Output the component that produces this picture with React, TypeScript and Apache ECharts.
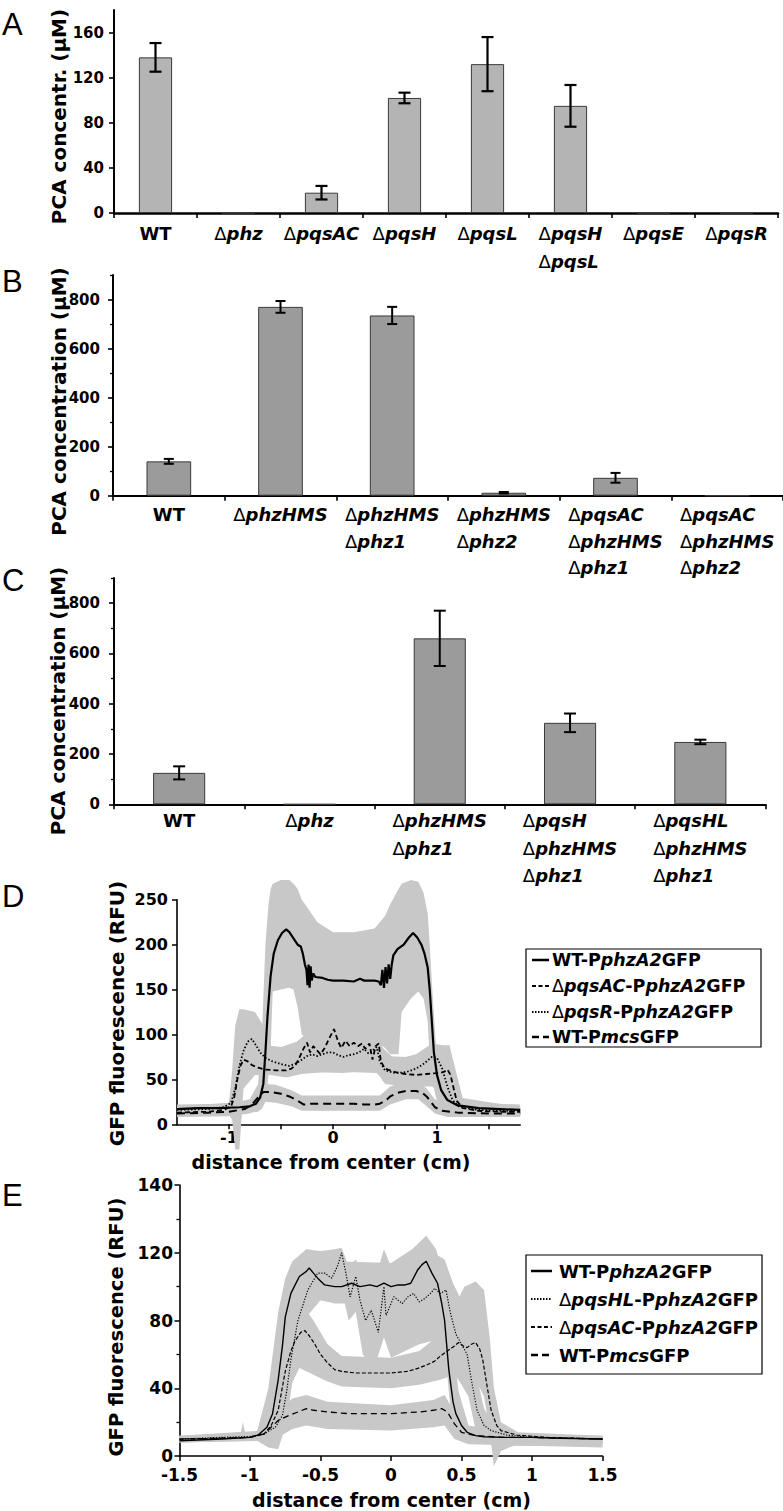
import React, { useEffect, useRef } from 'react';
import * as echarts from 'echarts';

// ---------------- DATA ----------------
const catsA = ['WT', 'Δphz', 'ΔpqsAC', 'ΔpqsH', 'ΔpqsL', 'ΔpqsH\nΔpqsL', 'ΔpqsE', 'ΔpqsR'];
const valsA = [138, 0, 18, 102, 132, 95, 0, 0];
const errA = [12.7, 0, 6, 4.7, 24, 18.5, 0, 0];
const tickValsA = [0, 40, 80, 120, 160];

const catsB = ['WT', 'ΔphzHMS', 'ΔphzHMS\nΔphz1', 'ΔphzHMS\nΔphz2', 'ΔpqsAC\nΔphzHMS\nΔphz1', 'ΔpqsAC\nΔphzHMS\nΔphz2'];
const valsB = [140, 770, 735, 12, 73, 0];
const errB = [10, 24, 35, 3, 20, 0];

const catsC = ['WT', 'Δphz', 'ΔphzHMS\nΔphz1', 'ΔpqsH\nΔphzHMS\nΔphz1', 'ΔpqsHL\nΔphzHMS\nΔphz1'];
const valsC = [125, 0, 660, 324, 248];
const errC = [26, 0, 110, 37, 9];

const tickValsBC = [0, 200, 400, 600, 800];
const minorValsBC = [100, 300, 500, 700, 900];

const dXTicks = [-1, -0.5, 0, 0.5, 1, 1.5];
const dXLabels = [-1, 0, 1];
const eYTickVals = [0, 40, 80, 120, 160];
const eYTickLabels = ['0', '40', '80', '120', '140'];

// Panel D curves [x, y]
const dWT = [[-1.5,17],[-1.3,18],[-1.1,18],[-0.9,19],[-0.8,20],[-0.74,23],[-0.7,30],[-0.67,45],[-0.65,80],[-0.63,120],[-0.6,165],[-0.57,190],[-0.53,205],[-0.49,213],[-0.45,217],[-0.42,214],[-0.38,207],[-0.34,200],[-0.31,198],[-0.29,190],[-0.27,178],[-0.255,172],[-0.245,155],[-0.235,178],[-0.225,152],[-0.215,176],[-0.205,160],[-0.19,168],[-0.17,164],[-0.1,163],[-0.05,161],[0,160],[0.1,160],[0.2,159],[0.26,162],[0.3,160],[0.4,160],[0.44,159],[0.46,155],[0.475,172],[0.49,152],[0.505,175],[0.52,157],[0.535,178],[0.55,162],[0.565,178],[0.58,188],[0.62,195],[0.68,200],[0.73,208],[0.77,213],[0.81,208],[0.85,200],[0.88,190],[0.91,175],[0.93,150],[0.95,115],[0.97,80],[1.0,55],[1.04,38],[1.1,27],[1.2,21],[1.4,18],[1.6,17],[1.8,16]];
const dAC = [[-1.5,13],[-1.2,14],[-1.05,16],[-0.98,20],[-0.95,30],[-0.92,50],[-0.89,65],[-0.86,72],[-0.82,70],[-0.78,66],[-0.72,63],[-0.65,61],[-0.55,60],[-0.45,60],[-0.4,62],[-0.36,66],[-0.32,75],[-0.28,85],[-0.25,91],[-0.22,80],[-0.19,87],[-0.16,83],[-0.12,78],[-0.08,85],[-0.04,95],[0.01,106],[0.05,92],[0.08,85],[0.12,93],[0.16,87],[0.2,91],[0.24,87],[0.28,90],[0.31,84],[0.35,90],[0.38,72],[0.41,87],[0.44,90],[0.46,70],[0.5,62],[0.6,58],[0.7,56],[0.8,55],[0.9,56],[1.0,57],[1.06,58],[1.1,61],[1.13,55],[1.16,40],[1.19,26],[1.25,18],[1.4,15],[1.6,14],[1.8,14]];
const dR = [[-1.5,16],[-1.2,17],[-1.05,19],[-0.98,24],[-0.94,40],[-0.9,65],[-0.86,82],[-0.82,92],[-0.78,95],[-0.74,88],[-0.7,80],[-0.65,74],[-0.58,70],[-0.5,67],[-0.42,65],[-0.35,68],[-0.3,72],[-0.25,76],[-0.2,78],[-0.15,76],[-0.1,78],[-0.05,80],[0,80],[0.05,77],[0.1,75],[0.15,77],[0.2,78],[0.25,80],[0.3,84],[0.34,79],[0.38,82],[0.42,86],[0.45,70],[0.5,60],[0.6,57],[0.7,58],[0.8,62],[0.88,68],[0.95,75],[1.0,74],[1.05,62],[1.1,42],[1.15,27],[1.22,19],[1.4,16],[1.6,15],[1.8,15]];
const dMcs = [[-1.5,12],[-1.2,13],[-1.0,14],[-0.85,17],[-0.78,22],[-0.72,30],[-0.67,36],[-0.6,36],[-0.5,34],[-0.42,31],[-0.35,27],[-0.28,22],[-0.2,23],[-0.1,23],[0,23],[0.1,23],[0.2,23],[0.3,22],[0.4,22],[0.45,23],[0.5,26],[0.55,31],[0.62,35],[0.7,37],[0.8,37],[0.86,35],[0.9,31],[0.94,25],[0.98,19],[1.05,15],[1.2,13],[1.5,12],[1.8,12]];

// Panel D error envelopes [x, low, high]
const bandDWT = [[-1.5,11,22],[-1.0,12,23],[-0.8,13,28],[-0.72,14,45],[-0.68,18,110],[-0.65,25,200],[-0.62,55,245],[-0.6,80,262],[-0.58,148,268],[-0.5,150,272],[-0.42,152,272],[-0.38,150,268],[-0.34,130,262],[-0.3,100,250],[-0.25,95,242],[-0.15,93,225],[0,92,214],[0.2,93,214],[0.4,95,218],[0.5,85,232],[0.55,78,245],[0.63,78,262],[0.66,125,268],[0.75,140,272],[0.82,148,270],[0.87,140,258],[0.91,115,235],[0.93,75,200],[0.96,45,140],[1.0,25,70],[1.05,15,40],[1.15,12,25],[1.8,10,22]];
const bandDAC = [[-1.5,10,18],[-1.0,11,22],[-0.97,5,60],[-0.94,-28,110],[-0.9,-28,128],[-0.86,40,128],[-0.75,55,125],[-0.68,55,112],[-0.64,55,88],[-0.5,55,86],[-0.35,57,92],[-0.2,58,106],[0,58,112],[0.2,58,110],[0.42,57,108],[0.46,52,92],[0.5,45,76],[0.7,42,75],[0.95,42,80],[1.05,35,88],[1.12,25,88],[1.18,15,60],[1.25,10,28],[1.8,10,18]];
const bandDR = [[-1.5,11,20],[-1.0,12,24],[-0.96,15,60],[-0.92,30,115],[-0.86,55,125],[-0.78,65,122],[-0.7,58,108],[-0.6,55,86],[-0.45,52,84],[-0.3,56,90],[-0.1,58,100],[0.1,57,100],[0.3,60,105],[0.42,60,106],[0.48,48,85],[0.6,44,72],[0.8,46,78],[0.95,50,90],[1.05,40,88],[1.12,20,65],[1.2,12,30],[1.8,11,19]];
const bandDMcs = [[-1.5,8,16],[-1.0,9,18],[-0.8,12,25],[-0.72,18,38],[-0.65,25,45],[-0.55,24,44],[-0.4,20,38],[-0.3,15,32],[0,15,32],[0.45,15,32],[0.55,22,42],[0.7,28,48],[0.82,28,48],[0.9,20,40],[0.98,12,28],[1.1,8,18],[1.8,8,16]];

// Panel E curves [x, y]
const eWT = [[-1.5,9],[-1.2,10],[-1.0,11],[-0.94,12.5],[-0.88,17],[-0.84,25],[-0.8,45],[-0.77,65],[-0.75,82],[-0.71,96],[-0.65,106],[-0.6,109],[-0.58,111],[-0.55,108],[-0.52,105],[-0.47,101],[-0.4,100],[-0.35,100],[-0.28,102],[-0.22,100],[-0.15,101],[-0.1,100],[-0.05,102],[0,100],[0.05,101],[0.1,101],[0.14,102],[0.19,110],[0.22,113],[0.25,115],[0.29,108],[0.33,102],[0.36,90],[0.38,80],[0.41,51],[0.44,32],[0.46,25],[0.5,18],[0.54,14],[0.6,12],[0.66,11.4],[0.8,11],[1.0,11],[1.2,10.5],[1.5,10]];
const eHL = [[-1.5,10],[-1.2,11],[-1.0,11.5],[-0.9,13],[-0.82,17],[-0.77,24],[-0.74,38],[-0.71,57],[-0.66,80],[-0.59,98],[-0.52,108],[-0.47,108],[-0.42,105],[-0.38,112],[-0.35,120],[-0.32,108],[-0.29,94],[-0.25,106],[-0.22,92],[-0.18,80],[-0.14,86],[-0.09,73],[-0.05,100],[-0.035,83],[0.02,94],[0.08,90],[0.12,94],[0.16,96],[0.2,91],[0.24,93],[0.28,96],[0.31,99],[0.35,96],[0.39,98],[0.42,85],[0.46,72],[0.5,66],[0.54,60],[0.57,45],[0.61,27],[0.66,18],[0.71,15],[0.82,12.4],[1.0,11],[1.5,10]];
const eAC = [[-1.5,10],[-1.2,10.5],[-1.0,11],[-0.9,13],[-0.85,18],[-0.8,27],[-0.75,50],[-0.71,62],[-0.68,68],[-0.64,73],[-0.61,74],[-0.58,71],[-0.54,66],[-0.5,60],[-0.45,55],[-0.4,51],[-0.35,50],[-0.25,49],[-0.1,49],[0,49],[0.12,50],[0.2,52],[0.26,54],[0.31,56],[0.35,59],[0.4,62],[0.45,65],[0.48,67],[0.51,65],[0.54,64],[0.57,66],[0.6,67],[0.63,63],[0.65,57],[0.68,42],[0.71,27],[0.75,18],[0.78,15],[0.89,12.4],[1.1,11],[1.5,10]];
const eMcs = [[-1.5,10],[-1.2,10.5],[-1.0,11],[-0.9,13],[-0.85,17],[-0.8,21],[-0.75,23],[-0.66,26],[-0.6,28],[-0.55,27],[-0.45,26],[-0.3,25],[-0.1,25],[0,25],[0.2,26],[0.3,27],[0.36,28],[0.4,26],[0.45,19],[0.5,14],[0.6,12],[0.8,11],[1.0,11],[1.5,10]];

// Panel E error envelopes [x, low, high]
const bandEWT = [[-1.5,8,11],[-0.95,9,14],[-0.87,8,40],[-0.8,20,85],[-0.75,55,105],[-0.7,85,115],[-0.6,97,122],[-0.5,92,118],[-0.4,90,115],[0,90,114],[0.15,92,122],[0.25,100,130],[0.32,95,122],[0.36,70,110],[0.39,55,100],[0.42,30,78],[0.48,12,38],[0.55,8,18],[1.0,7,12],[1.5,7,12]];
const bandEHL = [[-1.5,8,12],[-1.07,9,12],[-1.05,9,20],[-1.03,9,12],[-0.95,9,14],[-0.87,5,38],[-0.8,4,62],[-0.74,20,95],[-0.68,55,115],[-0.6,82,122],[-0.5,92,121],[-0.4,96,122],[-0.35,98,123],[-0.3,80,112],[-0.25,85,116],[-0.2,60,108],[-0.12,52,102],[-0.05,70,122],[0,58,112],[0.1,62,116],[0.2,66,124],[0.3,68,120],[0.38,70,116],[0.44,50,102],[0.5,42,92],[0.55,35,80],[0.6,15,50],[0.66,8,28],[0.75,6,16],[1.0,6,12],[1.5,6,12]];
const bandEAC = [[-1.5,9,12],[-0.9,10,15],[-0.82,12,40],[-0.75,35,80],[-0.65,52,92],[-0.55,48,80],[-0.45,44,66],[-0.35,41,59],[0,40,58],[0.2,42,62],[0.35,45,72],[0.45,48,88],[0.52,47,100],[0.6,45,103],[0.66,35,98],[0.7,15,70],[0.73,-6,40],[0.78,3,20],[0.9,7,14],[1.5,7,12]];
const bandEMcs = [[-1.5,8,12],[-0.9,9,14],[-0.82,10,25],[-0.7,16,34],[-0.6,18,36],[-0.45,16,32],[0,15,30],[0.3,17,33],[0.38,18,36],[0.45,10,26],[0.55,7,15],[1.5,5,11]];

const legendD = ['{b|WT-P}{i|phzA2}{b|GFP}', '{d|Δ}{i|pqsAC}{b|-P}{i|phzA2}{b|GFP}', '{d|Δ}{i|pqsR}{b|-P}{i|phzA2}{b|GFP}', '{b|WT-P}{i|mcs}{b|GFP}'];
const legendE = ['{b|WT-P}{i|phzA2}{b|GFP}', '{d|Δ}{i|pqsHL}{b|-P}{i|phzA2}{b|GFP}', '{d|Δ}{i|pqsAC}{b|-P}{i|phzA2}{b|GFP}', '{b|WT-P}{i|mcs}{b|GFP}'];

// ---------------- HELPERS ----------------
const FONT = "'DejaVu Sans', sans-serif";
const BAND_FILL = '#c8c8c8';

function catLabel(v: string) {
  return v.split('\n').map((line) => (line.startsWith('Δ') ? `{d|Δ}{i|${line.slice(1)}}` : `{b|${line}}`)).join('\n');
}
function richFor(fs: number, lh: number) {
  return {
    d: { fontFamily: FONT, fontSize: fs, fontWeight: 'normal', lineHeight: lh, align: 'left', color: '#000' },
    i: { fontFamily: FONT, fontSize: fs, fontWeight: 'bold', fontStyle: 'italic', lineHeight: lh, align: 'left', color: '#000' },
    b: { fontFamily: FONT, fontSize: fs, fontWeight: 'bold', lineHeight: lh, align: 'left', color: '#000' },
  };
}
function legRich(fs: number) {
  return {
    d: { fontFamily: FONT, fontSize: fs, fontWeight: 'normal', fill: '#000' },
    i: { fontFamily: FONT, fontSize: fs, fontWeight: 'bold', fontStyle: 'italic', fill: '#000' },
    b: { fontFamily: FONT, fontSize: fs, fontWeight: 'bold', fill: '#000' },
  };
}
const errData = (vals: number[], errs: number[]) => vals.map((v, i) => [i, v - errs[i], v + errs[i]]);

function errRender(cap: number, lw: number) {
  return (params: any, api: any) => {
    const x = api.value(0);
    const lo = api.value(1);
    const hi = api.value(2);
    if (!(hi > lo)) return null;
    const a = api.coord([x, hi]);
    const b = api.coord([x, lo]);
    const st = { stroke: '#000', lineWidth: lw };
    return {
      type: 'group',
      children: [
        { type: 'line', shape: { x1: a[0], y1: a[1], x2: b[0], y2: b[1] }, style: st },
        { type: 'line', shape: { x1: a[0] - cap, y1: a[1], x2: a[0] + cap, y2: a[1] }, style: st },
        { type: 'line', shape: { x1: b[0] - cap, y1: b[1], x2: b[0] + cap, y2: b[1] }, style: st },
      ],
    };
  };
}
function bandRender(band: number[][]) {
  return (params: any, api: any) => {
    if (params.dataIndex !== 0) return null;
    const top = band.map((p) => api.coord([p[0], p[2]]));
    const bot = band.map((p) => api.coord([p[0], p[1]])).reverse();
    return { type: 'polygon', shape: { points: top.concat(bot) }, style: { fill: BAND_FILL } };
  };
}

const blackLine = (w: number) => ({ lineStyle: { color: '#000', width: w } });

function catXAxis(grid: number, cats: string[], margin: number, lh: number, lw: number) {
  return {
    gridIndex: grid, type: 'category', data: cats, boundaryGap: true,
    axisLine: { onZero: false, ...blackLine(lw) },
    axisTick: { show: true, interval: 0, length: 5, alignWithLabel: false, ...blackLine(1.6) },
    axisLabel: { interval: 0, margin, formatter: catLabel, rich: richFor(18, lh), color: '#000' },
    splitLine: { show: false },
  };
}
function valYAxis(grid: number, max: number, ticks: number[], margin: number, fs: number) {
  return {
    gridIndex: grid, type: 'value', position: 'left', min: 0, max,
    axisLine: { show: true, onZero: false, ...blackLine(2) },
    axisTick: { show: true, customValues: ticks, length: 5, ...blackLine(1.6) },
    axisLabel: { customValues: ticks, margin, fontFamily: FONT, fontSize: fs, fontWeight: 'bold', color: '#000' },
    splitLine: { show: false },
  };
}
function minorYAxis(grid: number, max: number, ticks: number[]) {
  return {
    gridIndex: grid, type: 'value', position: 'left', min: 0, max, offset: 0,
    axisLine: { show: false, onZero: false },
    axisTick: { show: true, customValues: ticks, length: 3, ...blackLine(1.3) },
    axisLabel: { show: false },
    splitLine: { show: false },
  };
}

function lineSeries(xi: number, yi: number, data: number[][], w: number, type: any) {
  return {
    type: 'line', xAxisIndex: xi, yAxisIndex: yi, data, showSymbol: false, symbol: 'none',
    lineStyle: { color: '#000', width: w, type }, z: 4, clip: false, silent: true,
  };
}
function bandSeries(xi: number, yi: number, band: number[][]) {
  return {
    type: 'custom', xAxisIndex: xi, yAxisIndex: yi, data: band, renderItem: bandRender(band),
    encode: { x: 0, y: [1, 2] }, clip: false, silent: true, z: 1,
  };
}

function legendGraphic(box: number[], rows: number[], lineX: number[], textX: number, styles: any[], texts: string[], fs: number) {
  const els: any[] = [
    { type: 'rect', shape: { x: box[0], y: box[1], width: box[2], height: box[3] }, style: { fill: '#fff', stroke: '#000', lineWidth: 1.2 }, z: 10 },
  ];
  rows.forEach((y, k) => {
    els.push({ type: 'line', shape: { x1: lineX[0], y1: y, x2: lineX[1], y2: y }, style: { stroke: '#000', lineWidth: styles[k].w, lineDash: styles[k].dash }, z: 11 });
    els.push({ type: 'text', x: textX, y, style: { text: texts[k], rich: legRich(fs), fontFamily: FONT, fontSize: fs, fontWeight: 'bold', fill: '#000', align: 'left', verticalAlign: 'middle' }, z: 11 });
  });
  return els;
}

function rotTitle(x: number, y: number, text: string, fs: number) {
  return { type: 'text', x, y, rotation: Math.PI / 2, style: { text, fontFamily: FONT, fontSize: fs, fontWeight: 'bold', fill: '#000', align: 'center', verticalAlign: 'middle' } };
}
function panelLetter(y: number, text: string) {
  return { type: 'text', x: 2, y, style: { text, fontFamily: "'Liberation Sans', Arial, sans-serif", fontSize: 31, fontWeight: 'normal', fill: '#000', align: 'left', verticalAlign: 'middle' } };
}

export default function App() {
  const ref = useRef<HTMLDivElement>(null);
  useEffect(() => {
    if (!ref.current) return;
    const chart = echarts.init(ref.current, undefined, { renderer: 'svg' });
    const option: any = {
      animation: false,
      backgroundColor: '#fff',
      textStyle: { fontFamily: FONT },
      grid: [
        { left: 114, top: 10, width: 664, height: 203, containLabel: false, outerBoundsMode: 'none' },
        { left: 113, top: 275, width: 670, height: 220.7, containLabel: false, outerBoundsMode: 'none' },
        { left: 114, top: 578, width: 651.5, height: 226.3, containLabel: false, outerBoundsMode: 'none' },
        { left: 177, top: 899.8, width: 343.2, height: 224.5, containLabel: false, outerBoundsMode: 'none' },
        { left: 179.5, top: 1185, width: 423, height: 271, containLabel: false, outerBoundsMode: 'none' },
      ],
      xAxis: [
        catXAxis(0, catsA, 7, 27.5, 2.5),
        catXAxis(1, catsB, 6, 26.25, 2),
        catXAxis(2, catsC, 3, 27.25, 2),
        {
          gridIndex: 3, type: 'value', min: -1.5, max: 1.8,
          axisLine: { onZero: false, ...blackLine(1.6) },
          axisTick: { show: true, customValues: dXTicks, length: 5, ...blackLine(1.5) },
          axisLabel: { customValues: dXLabels, margin: 5, fontFamily: FONT, fontSize: 16, fontWeight: 'bold', color: '#000', lineHeight: 16 },
          splitLine: { show: false },
        },
        {
          gridIndex: 4, type: 'value', min: -1.5, max: 1.5, interval: 0.5,
          axisLine: { onZero: false, ...blackLine(1.6) },
          axisTick: { show: true, length: 5, ...blackLine(1.5) },
          axisLabel: { margin: 10, fontFamily: FONT, fontSize: 17, fontWeight: 'bold', color: '#000' },
          splitLine: { show: false },
        },
      ],
      yAxis: [
        valYAxis(0, 180, tickValsA, 10, 15),
        valYAxis(1, 900, tickValsBC, 13, 15),
        minorYAxis(1, 900, minorValsBC),
        valYAxis(2, 900, tickValsBC, 14, 15),
        minorYAxis(2, 900, minorValsBC),
        {
          gridIndex: 3, type: 'value', position: 'left', min: 0, max: 250, interval: 50,
          axisLine: { show: true, onZero: false, ...blackLine(1.6) },
          axisTick: { show: true, length: 5, ...blackLine(1.5) },
          axisLabel: { margin: 9, fontFamily: FONT, fontSize: 16, fontWeight: 'bold', color: '#000' },
          splitLine: { show: false },
        },
        {
          gridIndex: 4, type: 'value', position: 'left', min: 0, max: 160, interval: 40,
          axisLine: { show: true, onZero: false, ...blackLine(1.6) },
          axisTick: { show: true, length: 5, ...blackLine(1.5) },
          minorTick: { show: true, splitNumber: 2, length: 3, lineStyle: { color: '#000', width: 1.3 } },
          axisLabel: {
            margin: 6.5, fontFamily: FONT, fontSize: 17, fontWeight: 'bold', color: '#000',
            formatter: (v: number) => { const k = eYTickVals.indexOf(v); return k >= 0 ? eYTickLabels[k] : ''; },
          },
          splitLine: { show: false }, minorSplitLine: { show: false },
        },
      ],
      series: [
        { type: 'bar', xAxisIndex: 0, yAxisIndex: 0, data: valsA, barWidth: '40%', itemStyle: { color: '#b4b4b4', borderColor: '#3a3a3a', borderWidth: 1 }, silent: true },
        { type: 'custom', xAxisIndex: 0, yAxisIndex: 0, data: errData(valsA, errA), renderItem: errRender(6, 2.2), encode: { x: 0, y: [1, 2] }, z: 5, silent: true },
        { type: 'bar', xAxisIndex: 1, yAxisIndex: 1, data: valsB, barWidth: '40%', itemStyle: { color: '#9b9b9b', borderColor: '#3a3a3a', borderWidth: 1 }, silent: true },
        { type: 'custom', xAxisIndex: 1, yAxisIndex: 1, data: errData(valsB, errB), renderItem: errRender(5, 2), encode: { x: 0, y: [1, 2] }, z: 5, silent: true },
        { type: 'bar', xAxisIndex: 2, yAxisIndex: 3, data: valsC, barWidth: '40%', itemStyle: { color: '#9b9b9b', borderColor: '#3a3a3a', borderWidth: 1 }, silent: true },
        { type: 'custom', xAxisIndex: 2, yAxisIndex: 3, data: errData(valsC, errC), renderItem: errRender(6, 2), encode: { x: 0, y: [1, 2] }, z: 5, silent: true },

        bandSeries(3, 5, bandDWT),
        bandSeries(3, 5, bandDAC),
        bandSeries(3, 5, bandDR),
        bandSeries(3, 5, bandDMcs),
        lineSeries(3, 5, dWT, 2.2, 'solid'),
        lineSeries(3, 5, dAC, 1.8, [5, 3]),
        lineSeries(3, 5, dR, 1.8, [1.5, 2]),
        lineSeries(3, 5, dMcs, 2, [8, 5]),

        bandSeries(4, 6, bandEWT),
        bandSeries(4, 6, bandEHL),
        bandSeries(4, 6, bandEAC),
        bandSeries(4, 6, bandEMcs),
        lineSeries(4, 6, eWT, 1.4, 'solid'),
        lineSeries(4, 6, eHL, 1.2, [1.2, 1.6]),
        lineSeries(4, 6, eAC, 1.2, [4, 2]),
        lineSeries(4, 6, eMcs, 1.3, [6, 4]),
      ],
      graphic: [
        panelLetter(24, 'A'),
        panelLetter(281, 'B'),
        panelLetter(580, 'C'),
        panelLetter(896.5, 'D'),
        panelLetter(1195, 'E'),
        rotTitle(59, 116.5, 'PCA concentr. (µM)', 20),
        rotTitle(59, 401.5, 'PCA concentration (µM)', 20),
        rotTitle(58, 701, 'PCA concentration (µM)', 20),
        rotTitle(117, 1013.5, 'GFP fluorescence (RFU)', 20),
        rotTitle(116, 1327, 'GFP fluorescence (RFU)', 19.5),
        { type: 'text', x: 331, y: 1162, style: { text: 'distance from center (cm)', fontFamily: FONT, fontSize: 19, fontWeight: 'bold', fill: '#000', align: 'center', verticalAlign: 'middle' } },
        { type: 'text', x: 391.5, y: 1500, style: { text: 'distance from center (cm)', fontFamily: FONT, fontSize: 19, fontWeight: 'bold', fill: '#000', align: 'center', verticalAlign: 'middle' } },
        ...legendGraphic([526, 949, 235, 98], [960, 986, 1012, 1037], [532, 549], 552,
          [{ w: 2.5, dash: null }, { w: 2, dash: [4, 2.5] }, { w: 2, dash: [1.5, 1.5] }, { w: 2.5, dash: [7, 4] }], legendD, 17.5),
        ...legendGraphic([526, 1255, 236, 119], [1271, 1299, 1327, 1355], [531, 552], 559,
          [{ w: 2.5, dash: null }, { w: 2, dash: [1.5, 1.5] }, { w: 2, dash: [4, 2.5] }, { w: 2.5, dash: [7, 4] }], legendE, 18),
      ],
    };
    chart.setOption(option);
    return () => chart.dispose();
  }, []);
  return <div ref={ref} style={{ position: 'absolute', left: 0, top: 0, width: 783, height: 1511, background: '#fff' }} />;
}
